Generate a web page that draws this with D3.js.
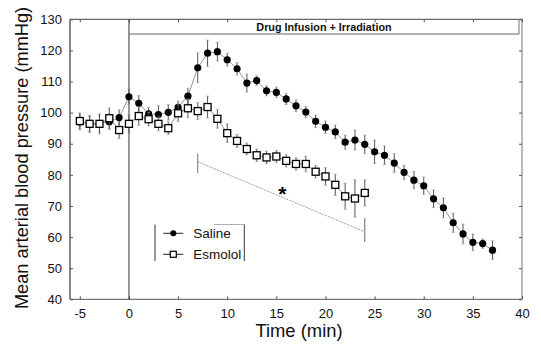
<!DOCTYPE html>
<html>
<head>
<meta charset="utf-8">
<script src="https://cdn.jsdelivr.net/npm/d3@7"></script>
<style>
  html, body { margin: 0; padding: 0; background: #fff; }
  svg { display: block; font-family: "Liberation Sans", Arial, Helvetica, sans-serif; }
</style>
</head>
<body>
<svg id="chart" width="541" height="344"></svg>
<script>
// Mean arterial pressure over time, saline vs esmolol (mean ± SEM, mmHg)
const salineTime = [-5,-4,-3,-2,-1,0,1,2,3,4,5,6,7,8,9,10,11,12,13,14,15,16,17,18,19,20,21,22,23,24,25,26,27,28,29,30,31,32,33,34,35,36,37];
const salineMean = [97.0,96.3,96.5,97.1,98.4,105.1,103.0,99.6,99.4,100.1,101.7,105.3,114.4,119.1,119.6,117.0,114.1,109.5,110.3,107.0,106.5,104.4,102.2,100.2,97.2,95.3,93.8,90.5,91.2,89.8,87.4,86.3,83.8,80.8,78.3,76.5,72.3,69.4,64.6,61.0,58.3,57.9,55.8];
const salineSem  = [2.5,2.5,2.5,2.5,2.5,2.5,2.5,2.0,2.8,2.5,2.0,2.5,4.8,4.2,3.0,2.0,2.0,2.9,1.5,1.6,1.7,1.8,1.9,1.8,2.0,2.0,2.2,2.3,3.2,3.0,3.8,3.0,3.0,2.3,2.8,2.8,2.8,3.2,3.1,3.2,2.7,1.5,3.0];

const esmololTime = [-5,-4,-3,-2,-1,0,1,2,3,4,5,6,7,8,9,10,11,12,13,14,15,16,17,18,19,20,21,22,23,24];
const esmololMean = [97.3,96.4,96.4,98.2,94.4,96.4,98.9,97.9,96.4,95.0,99.8,101.4,100.5,101.8,98.0,93.4,90.9,88.3,86.3,85.6,85.9,84.5,83.5,83.5,81.0,79.5,76.8,73.1,72.4,74.2];
const esmololSem  = [2.6,2.7,3.2,3.3,2.7,3.0,3.0,2.2,2.2,2.0,2.7,3.0,2.7,3.5,3.0,3.0,2.1,1.9,2.0,2.0,2.0,2.0,2.0,2.5,2.0,2.8,3.4,4.2,6.0,4.2];

const xTicks = [-5,0,5,10,15,20,25,30,35,40];
const yTicks = [40,50,60,70,80,90,100,110,120,130];
const seriesNames = ["Saline", "Esmolol"];
const periodLabel = "Drug Infusion + Irradiation";
const periodStart = 0;      // min
const periodEnd = 40;       // min
const xTitle = "Time (min)";
const yTitle = "Mean arterial blood pressure (mmHg)";

// significance bracket: ends at 7 and 24 min, slanted line between them
const bracketTime  = [7, 24];
const bracketLine  = [84.2, 61.7];
const bracketLeftTick  = [86.9, 80.5];
const bracketRightTick = [66.1, 58.4];
const bracketMark = "*";
const bracketMarkAt = [15.6, 75.0];

const svg = d3.select("#chart");
const x = d3.scaleLinear().domain([-6, 40]).range([70, 522]);
const y = d3.scaleLinear().domain([40, 130]).range([299.3, 19.3]);

const [x0, x1] = x.range();
const [yb, yt] = y.range();

// frame
const frame = svg.append("g").attr("fill", "none");
frame.append("line").attr("x1", x0).attr("x2", x0).attr("y1", yt).attr("y2", yb).attr("stroke", "#222").attr("stroke-width", 1.1);
frame.append("line").attr("x1", x0).attr("x2", x1).attr("y1", yb).attr("y2", yb).attr("stroke", "#555").attr("stroke-width", 1);
frame.append("line").attr("x1", x0).attr("x2", x1).attr("y1", yt).attr("y2", yt).attr("stroke", "#444").attr("stroke-width", 1);
frame.append("line").attr("x1", x1).attr("x2", x1).attr("y1", yt).attr("y2", yb).attr("stroke", "#777").attr("stroke-width", 1);

// axes with inward ticks on all sides
const axisStyle = g => {
  g.select(".domain").remove();
  g.selectAll(".tick line").attr("stroke", "#555");
  g.selectAll(".tick text").attr("fill", "#111").style("font-size", "13px").style("font-family", "'Liberation Sans', Arial, sans-serif");
};
svg.append("g").attr("transform", `translate(0,${yb})`)
  .call(d3.axisBottom(x).tickValues(xTicks).tickSizeInner(-3).tickSizeOuter(0).tickPadding(9).tickFormat(d3.format("d")))
  .call(axisStyle)
  .call(g => g.selectAll(".tick text").text(d => d < 0 ? "-" + Math.abs(d) : d));
svg.append("g").attr("transform", `translate(${x0},0)`)
  .call(d3.axisLeft(y).tickValues(yTicks).tickSizeInner(-3).tickSizeOuter(0).tickPadding(8))
  .call(axisStyle);
svg.append("g").attr("transform", `translate(0,${yt})`)
  .call(d3.axisTop(x).tickValues(xTicks).tickSizeInner(-3).tickSizeOuter(0).tickFormat(""))
  .call(axisStyle);
svg.append("g").attr("transform", `translate(${x1},0)`)
  .call(d3.axisRight(y).tickValues(yTicks).tickSizeInner(-3).tickSizeOuter(0).tickFormat(""))
  .call(axisStyle);

// infusion period band and start line
const bandBottom = yt + 14.7;
svg.append("line").attr("x1", x(periodStart)).attr("x2", x(periodStart)).attr("y1", yt).attr("y2", yb)
  .attr("stroke", "#333").attr("stroke-width", 1);
svg.append("line").attr("x1", x(periodStart)).attr("x2", x(periodEnd) - 3).attr("y1", bandBottom).attr("y2", bandBottom)
  .attr("stroke", "#666").attr("stroke-width", 1);
svg.append("line").attr("x1", x(periodEnd) - 3).attr("x2", x(periodEnd) - 3).attr("y1", yt).attr("y2", bandBottom)
  .attr("stroke", "#888").attr("stroke-width", 1.2);
svg.append("text").attr("x", (x(periodStart) + x(periodEnd) - 3) / 2).attr("y", bandBottom - 3)
  .attr("text-anchor", "middle").style("font-size", "10.8px").style("font-weight", "bold").attr("fill", "#111")
  .text(periodLabel);

// significance bracket
const br = svg.append("g").attr("stroke", "#666").attr("fill", "none");
br.append("line").attr("x1", x(bracketTime[0])).attr("x2", x(bracketTime[0]))
  .attr("y1", y(bracketLeftTick[0])).attr("y2", y(bracketLeftTick[1])).attr("stroke-width", 0.9);
br.append("line").attr("x1", x(bracketTime[1])).attr("x2", x(bracketTime[1]))
  .attr("y1", y(bracketRightTick[0])).attr("y2", y(bracketRightTick[1])).attr("stroke-width", 1);
br.append("line").attr("x1", x(bracketTime[0])).attr("x2", x(bracketTime[1]))
  .attr("y1", y(bracketLine[0])).attr("y2", y(bracketLine[1]))
  .attr("stroke", "#888").attr("stroke-width", 0.8).attr("stroke-dasharray", "2,1");
svg.append("text").attr("x", x(bracketMarkAt[0])).attr("y", y(bracketMarkAt[1]) + 11)
  .attr("text-anchor", "middle").style("font-size", "21px").style("font-weight", "bold").attr("fill", "#000")
  .text(bracketMark);

// one series: error bars, connecting line, markers
function drawSeries(times, means, sems, marker) {
  const pts = times.map((t, i) => ({ t, m: means[i], s: sems[i] }));
  const g = svg.append("g");
  const eb = g.append("g").attr("stroke", "#555").attr("stroke-width", 1);
  pts.forEach(p => {
    eb.append("line").attr("x1", x(p.t)).attr("x2", x(p.t)).attr("y1", y(p.m + p.s)).attr("y2", y(p.m - p.s));
    [p.m + p.s, p.m - p.s].forEach(v =>
      eb.append("line").attr("x1", x(p.t) - 1.5).attr("x2", x(p.t) + 1.5).attr("y1", y(v)).attr("y2", y(v))
        .attr("stroke", "#999").attr("stroke-width", 0.7));
  });
  g.append("path").datum(pts)
    .attr("d", d3.line().x(p => x(p.t)).y(p => y(p.m)))
    .attr("fill", "none").attr("stroke", "#777").attr("stroke-width", 0.8);
  if (marker === "circle") {
    g.selectAll("circle").data(pts).join("circle")
      .attr("cx", p => x(p.t)).attr("cy", p => y(p.m)).attr("r", 3.6).attr("fill", "#000");
  } else {
    g.selectAll("rect").data(pts).join("rect")
      .attr("x", p => x(p.t) - 3.5).attr("y", p => y(p.m) - 3.5).attr("width", 7).attr("height", 7)
      .attr("fill", "#fff").attr("stroke", "#000").attr("stroke-width", 1.3);
  }
}
drawSeries(salineTime, salineMean, salineSem, "circle");
drawSeries(esmololTime, esmololMean, esmololSem, "square");

// legend
const lg = svg.append("g");
const lgLeft = 155, lgRight = 244.3, lgTop = 224.5, lgBottom = 261;
lg.append("line").attr("x1", lgLeft).attr("x2", lgLeft).attr("y1", lgTop).attr("y2", lgBottom).attr("stroke", "#333");
lg.append("line").attr("x1", lgRight).attr("x2", lgRight).attr("y1", lgTop).attr("y2", lgBottom).attr("stroke", "#333");
lg.append("line").attr("x1", 214).attr("x2", lgRight).attr("y1", lgTop).attr("y2", lgTop).attr("stroke", "#999").attr("stroke-width", 0.8);
const rows = [233.3, 254.3];
seriesNames.forEach((name, i) => {
  const ry = rows[i];
  lg.append("line").attr("x1", 163.3).attr("x2", 183.3).attr("y1", ry).attr("y2", ry).attr("stroke", "#222").attr("stroke-width", 1);
  if (i === 0) {
    lg.append("circle").attr("cx", 173.3).attr("cy", ry).attr("r", 3).attr("fill", "#000");
  } else {
    lg.append("rect").attr("x", 170.3).attr("y", ry - 3).attr("width", 6).attr("height", 6)
      .attr("fill", "#fff").attr("stroke", "#000").attr("stroke-width", 1.2);
  }
  lg.append("text").attr("x", 193.3).attr("y", ry + 4.8).style("font-size", "13.5px").attr("fill", "#111").text(name);
});

// axis titles
svg.append("text").attr("x", 299).attr("y", 336.5).attr("text-anchor", "middle")
  .style("font-size", "18.4px").attr("fill", "#111").text(xTitle);
svg.append("text").attr("transform", "translate(28,158) rotate(-90)").attr("text-anchor", "middle")
  .style("font-size", "18.2px").attr("fill", "#111").text(yTitle);
</script>
</body>
</html>
